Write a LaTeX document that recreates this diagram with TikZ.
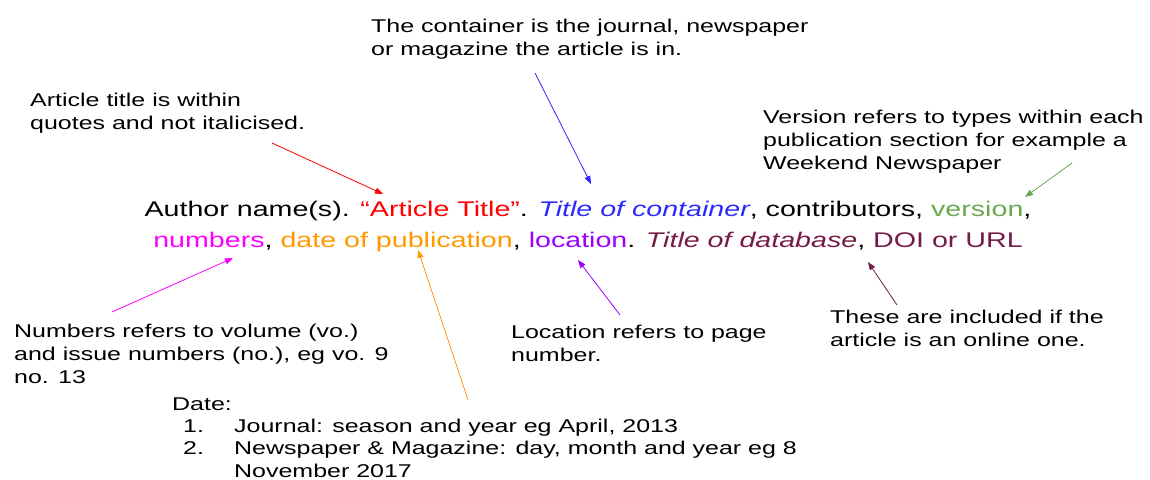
\documentclass[tikz,border=0pt]{standalone}
\usepackage{fontspec}
\setmainfont{Liberation Sans}[FakeStretch=1.35]
\usetikzlibrary{arrows.meta}
\definecolor{cTitle}{HTML}{FF0000}
\definecolor{cCont}{HTML}{2A2AFF}
\definecolor{cVer}{HTML}{6AA84F}
\definecolor{cNum}{HTML}{FF00FF}
\definecolor{cDate}{HTML}{FF9900}
\definecolor{cLoc}{HTML}{9900FF}
\definecolor{cDb}{HTML}{741B47}
\tikzset{
  note/.style={anchor=north west, align=left, inner sep=0pt, font=\fontsize{18.5}{23}\selectfont},
  item/.style={anchor=base west, inner sep=0pt, font=\fontsize{18.5}{23}\selectfont},
  pointer/.style={line width=0.8pt, -{Triangle[length=8pt,width=6pt]}}
}
\begin{document}
\begin{tikzpicture}[x=1pt,y=-1pt]
  % 画布大小
  \useasboundingbox (0,0) rectangle (1150,479);

  % 引用格式
  \node[align=center, inner sep=0pt, anchor=north, font=\fontsize{21.2}{31}\selectfont] (cite) at (588,200.5)
    {Author name(s). \textcolor{cTitle}{“Article Title”}. \textcolor{cCont}{\itshape Title of container}, contributors, \textcolor{cVer}{version},\\
     \textcolor{cNum}{numbers}, \textcolor{cDate}{date of publication}, \textcolor{cLoc}{location}. \textcolor{cDb}{\itshape Title of database}, \textcolor{cDb}{DOI or URL}};

  % 说明文字
  \node[note] (contNote) at (371,18.5) {The container is the journal, newspaper\\or magazine the article is in.};
  \node[note] (titleNote) at (30,92.5) {Article title is within\\quotes and not italicised.};
  \node[note] (verNote) at (763,109.5) {Version refers to types within each\\publication section for example a\\Weekend Newspaper};
  \node[note] (numNote) at (14,323.5) {Numbers refers to volume (vo.)\\and issue numbers (no.), eg vo. 9\\no. 13};
  \node[note] (locNote) at (511,324.5) {Location refers to page\\number.};
  \node[note] (dbNote) at (830,309.5) {These are included if the\\article is an online one.};

  % 日期列表
  \node[item] (dateHead) at (172,410) {Date:};
  \node[item] (dateOne) at (183,432) {1.};
  \node[item] (dateOneTxt) at (234,432) {Journal: season and year eg April, 2013};
  \node[item] (dateTwo) at (183,454) {2.};
  \node[note] (dateTwoTxt) at (234,440.5) {Newspaper \& Magazine: day, month and year eg 8\\November 2017};

  % 箭头端点
  \coordinate (titleFrom) at (272,143);
  \coordinate (titleTo) at (383,194);
  \coordinate (contFrom) at (535,73);
  \coordinate (contTo) at (591,184);
  \coordinate (verFrom) at (1072,163);
  \coordinate (verTo) at (1025,197);
  \coordinate (numFrom) at (112,312);
  \coordinate (numTo) at (233,258);
  \coordinate (dateFrom) at (468,400);
  \coordinate (dateTo) at (418,250);
  \coordinate (locFrom) at (620,315);
  \coordinate (locTo) at (578,260);
  \coordinate (dbFrom) at (897,305);
  \coordinate (dbTo) at (868,262);

  % 箭头
  \draw[pointer, cTitle] (titleFrom) -- (titleTo);
  \draw[pointer, cCont] (contFrom) -- (contTo);
  \draw[pointer, cVer] (verFrom) -- (verTo);
  \draw[pointer, cNum] (numFrom) -- (numTo);
  \draw[pointer, cDate] (dateFrom) -- (dateTo);
  \draw[pointer, cLoc] (locFrom) -- (locTo);
  \draw[pointer, cDb] (dbFrom) -- (dbTo);
\end{tikzpicture}
\end{document}
